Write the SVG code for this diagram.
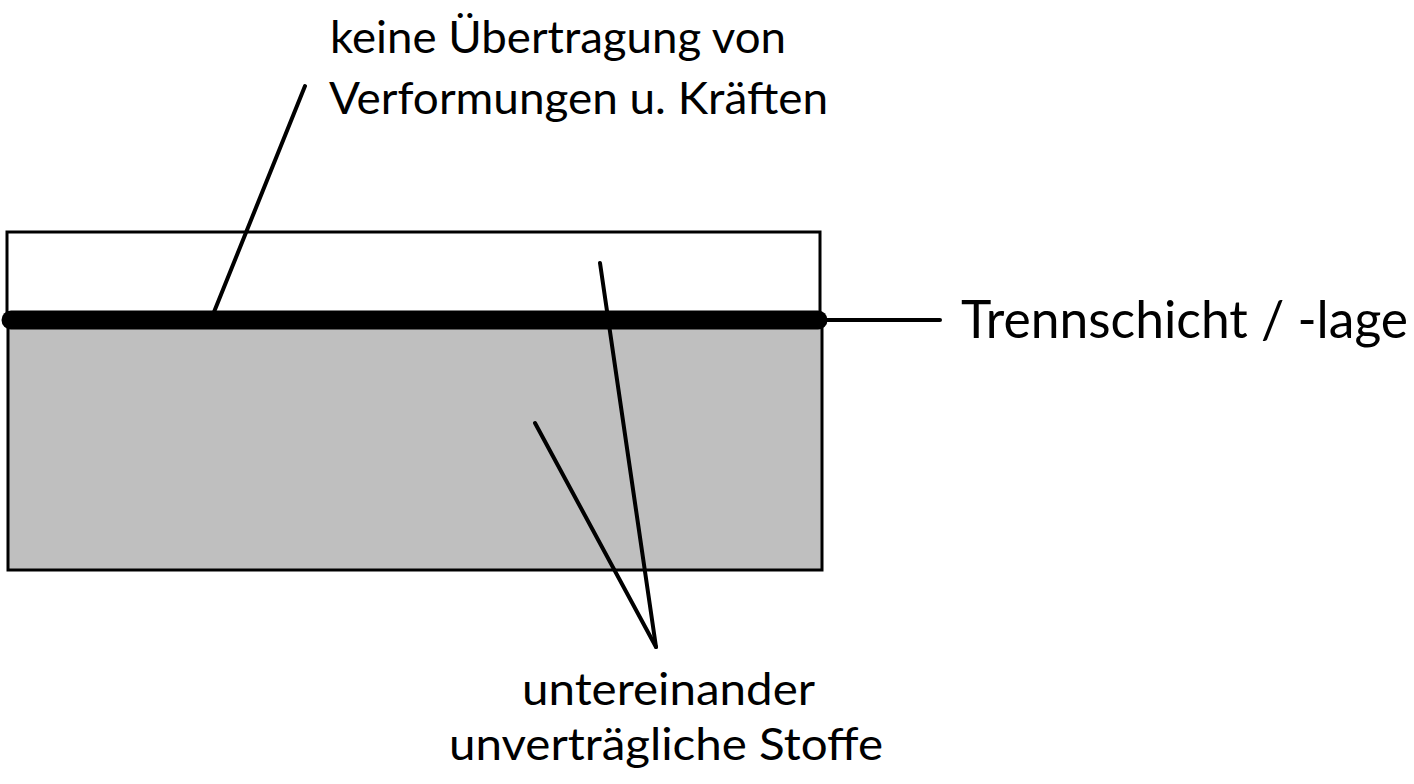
<svg xmlns="http://www.w3.org/2000/svg" width="1414" height="784" viewBox="0 0 1414 784">
<style>
.ln{stroke:#000;stroke-width:4;fill:none;stroke-linecap:round}
.box{stroke:#000;stroke-width:3}
.t{font-family:"Lato","Open Sans","Liberation Sans",sans-serif;fill:#000}
</style>
<rect width="1414" height="784" fill="#fff"/>
<g id="upper-layer">
<rect class="box" x="7" y="232" width="813" height="88" fill="#fff"/>
</g>
<g id="lower-layer">
<rect class="box" x="8" y="320" width="814" height="250" fill="#bfbfbf"/>
</g>
<g id="separation-layer">
<line x1="11" y1="320" x2="818" y2="320" stroke="#000" stroke-width="19" stroke-linecap="round"/>
</g>
<g id="connectors">
<line class="ln" x1="822" y1="320" x2="940" y2="320" stroke-width="3"/>
<line class="ln" x1="305" y1="86" x2="214" y2="312"/>
<line class="ln" x1="600" y1="263" x2="656" y2="647"/>
<line class="ln" x1="535" y1="423" x2="656" y2="647"/>
</g>
<g id="label-top">
<text class="t" x="330" y="53" font-size="44" textLength="456" lengthAdjust="spacingAndGlyphs">keine Übertragung von</text>
<text class="t" x="329" y="114" font-size="44" textLength="499" lengthAdjust="spacingAndGlyphs">Verformungen u. Kräften</text>
</g>
<g id="label-right">
<text class="t" x="961" y="338" font-size="52" textLength="447" lengthAdjust="spacingAndGlyphs">Trennschicht / -lage</text>
</g>
<g id="label-bottom">
<text class="t" x="522" y="705" font-size="44" textLength="293" lengthAdjust="spacingAndGlyphs">untereinander</text>
<text class="t" x="449" y="760" font-size="44" textLength="434" lengthAdjust="spacingAndGlyphs">unverträgliche Stoffe</text>
</g>
</svg>
